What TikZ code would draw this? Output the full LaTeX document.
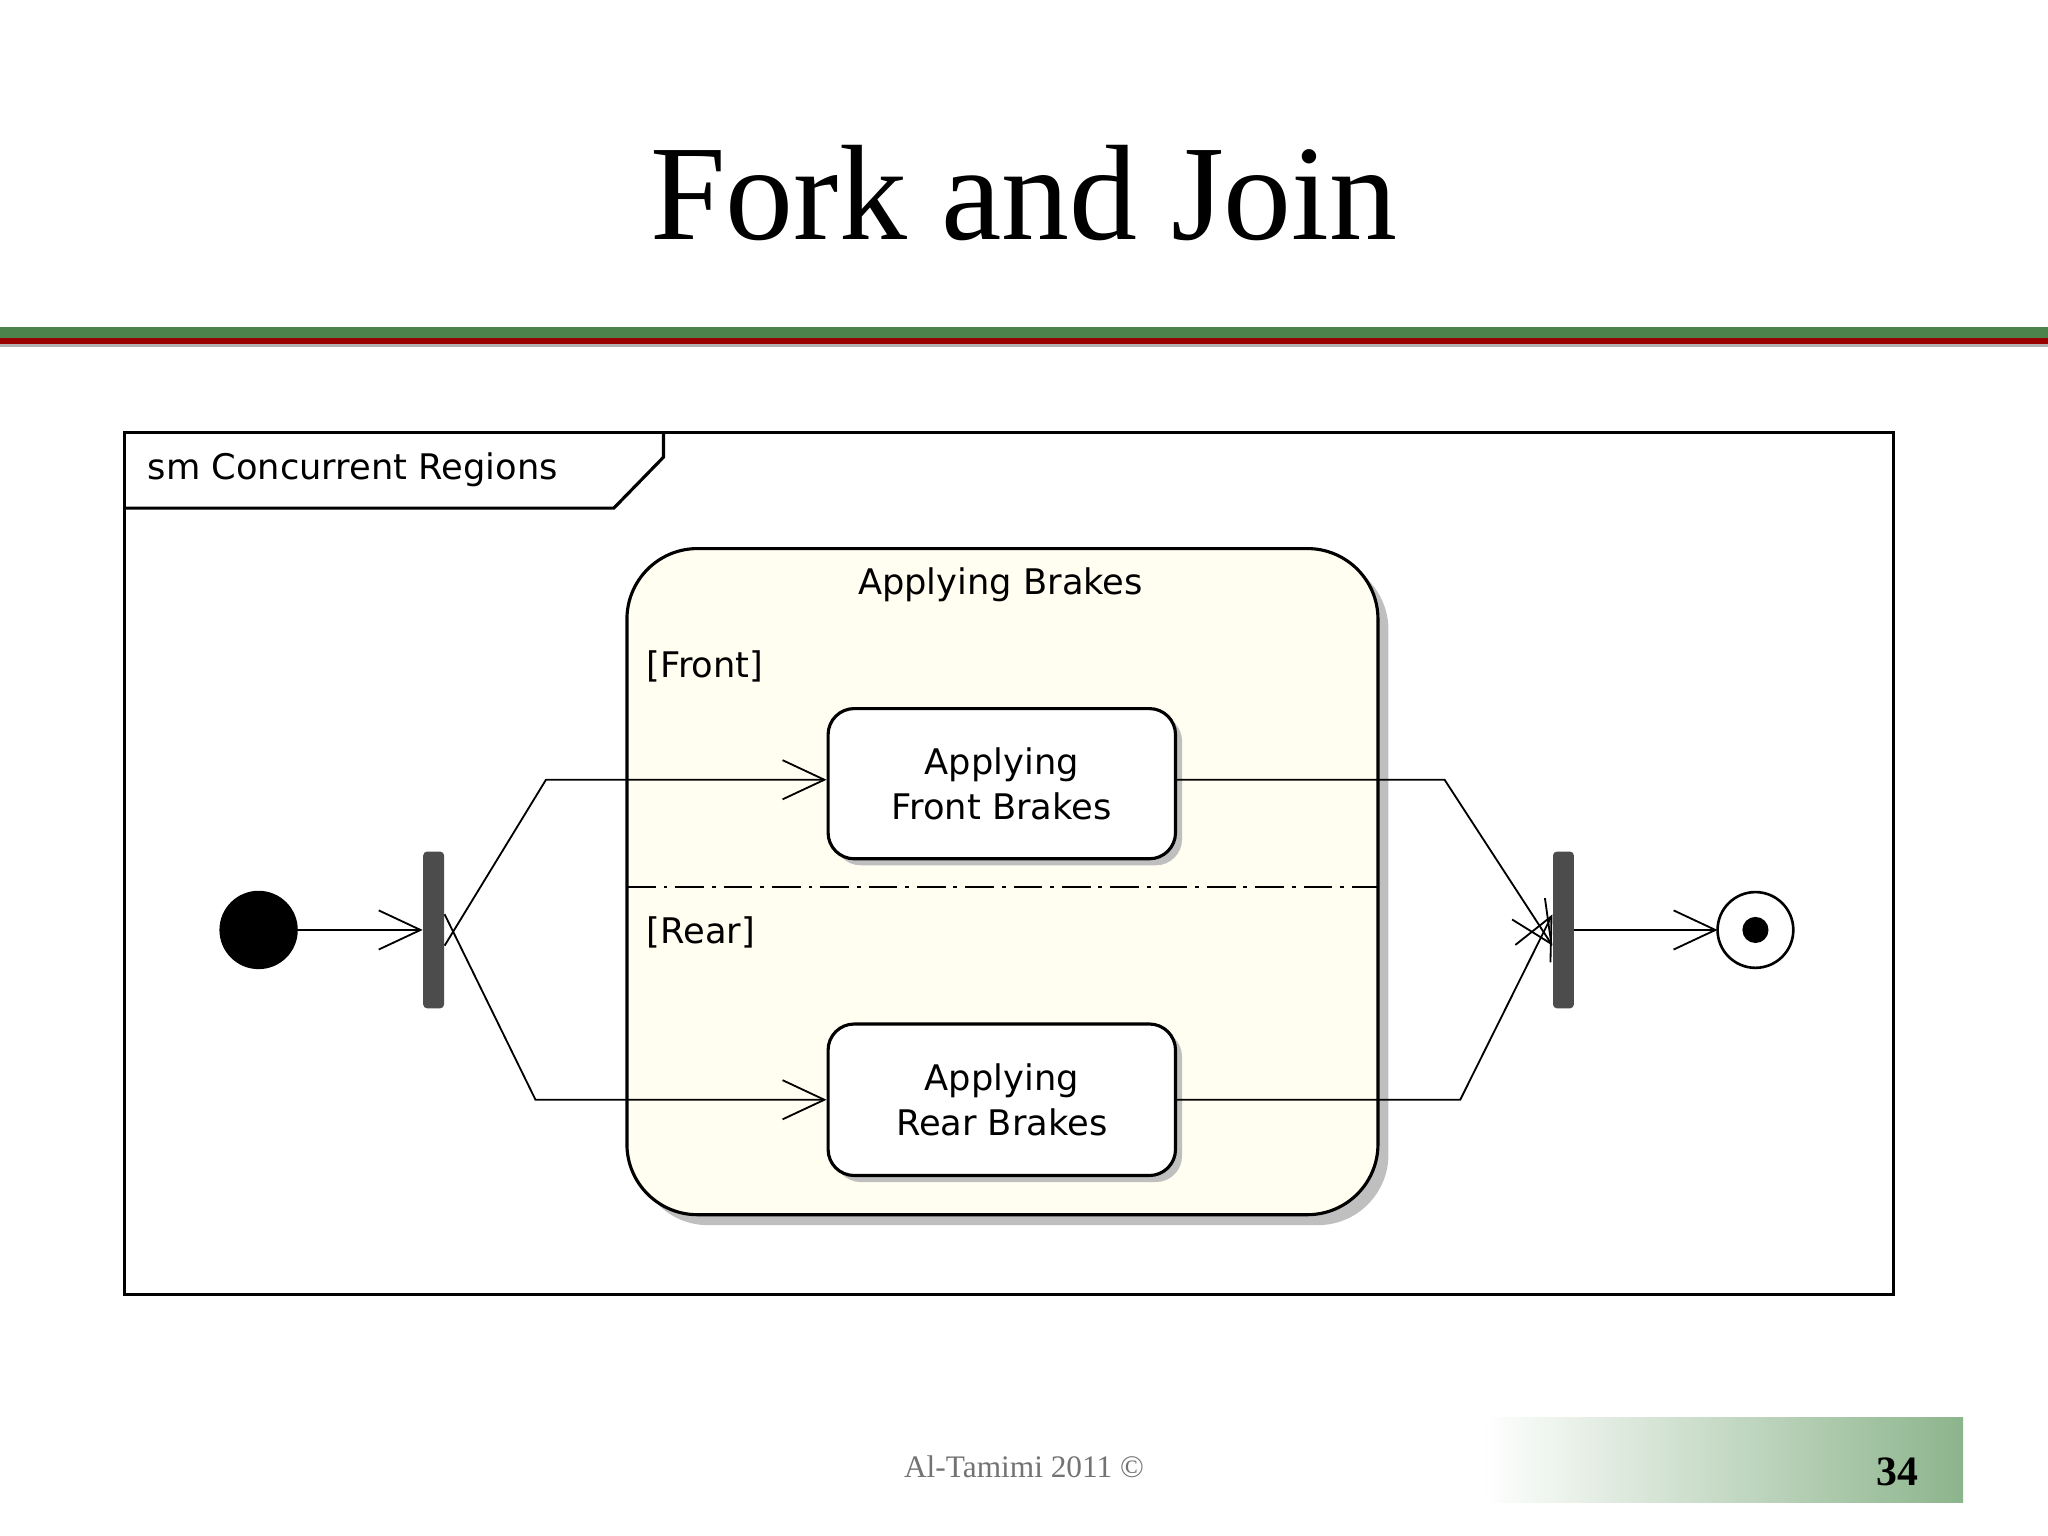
\documentclass[tikz,border=0pt]{standalone}
\usepackage{fontspec}
\setmainfont{Liberation Serif}
\newfontfamily\diag{DejaVu Sans}
\usetikzlibrary{arrows.meta,shadows}
\begin{document}
\begin{tikzpicture}[x=0.5pt,y=-0.5pt,
  lbl/.style={font=\diag\fontsize{13.5}{17}\selectfont},
  conn/.style={line width=0.7pt,-{Straight Barb[length=16pt,width=15pt,line width=0.7pt]}},
  statebox/.style={draw,line width=1.2pt,rounded corners=10pt,fill=white,drop shadow={shadow xshift=2.5pt,shadow yshift=-2.5pt,fill=black!25,opacity=1}},
  bar/.style={fill=black!70,rounded corners=1.5pt}]
\useasboundingbox (0,0) rectangle (1568,1176);
\fill[white] (0,0) rectangle (1568,1176);
\node[font=\fontsize{52}{60}\selectfont] (title) at (784,148) {Fork and Join};
\fill[green!30!black!70] (0,250) rectangle (1568,259);
\fill[red!60!black] (0,259) rectangle (1568,263);
\fill[black!30] (0,263) rectangle (1568,266);
% frame
\draw[line width=1.2pt] (95,331) rectangle (1450,991);
\draw[line width=1.2pt] (95,389) -- (470,389) -- (508,350) -- (508,331);
\node[lbl,anchor=west] (tab) at (106,360) {sm Concurrent Regions};
% composite
\draw[line width=1.2pt,fill=yellow!6,rounded corners=27pt,drop shadow={shadow xshift=4pt,shadow yshift=-4pt,fill=black!25,opacity=1}] (480,420) rectangle (1055,930);
\node[lbl] (ab) at (766,448) {Applying Brakes};
\node[lbl,anchor=west] (fr) at (488,510) {[Front]};
\node[lbl,anchor=west] (rr) at (488,714) {[Rear]};
\draw[line width=1pt,dash pattern=on 11pt off 3pt on 1.5pt off 3pt] (480,679) -- (1055,679);
\node[statebox,minimum width=133pt,minimum height=57.5pt,lbl,align=center] (front) at (767,600) {Applying\\Front Brakes};
\node[statebox,minimum width=133pt,minimum height=58pt,lbl,align=center] (rear) at (767,842) {Applying\\Rear Brakes};
% pseudostates
\fill (198,712) circle (30) coordinate (init);
\node[bar,minimum width=8pt,minimum height=60pt,inner sep=0] (fork) at (332,712) {};
\node[bar,minimum width=8pt,minimum height=60pt,inner sep=0] (join) at (1197,712) {};
\draw[line width=1pt,fill=white] (1344,712) circle (29);
\fill (1344,712) circle (10);
\coordinate (fin) at (1315,712);
% connectors
\draw[conn] (init) -- (fork.west);
\draw[conn] ([yshift=-6pt]fork.east) -- (418,597) -- (front.west|-0,597);
\draw[conn] ([yshift=6pt]fork.east) -- (410,842) -- (rear.west);
\draw[conn] (front.east|-0,597) -- (1106,597) -- ([yshift=-6pt]join.west);
\draw[conn] (rear.east) -- (1118,842) -- ([yshift=6pt]join.west);
\draw[conn] (join.east) -- (fin);
% footer
\node[text=black!55,font=\fontsize{12}{14}\selectfont] (foot) at (784,1123) {Al-Tamimi 2011 ©};
\shade[left color=white,right color=green!35!black!45] (1135,1085) rectangle (1503,1150);
\node[font=\bfseries\fontsize{16}{18}\selectfont] (pg) at (1453,1127) {34};
\end{tikzpicture}
\end{document}
